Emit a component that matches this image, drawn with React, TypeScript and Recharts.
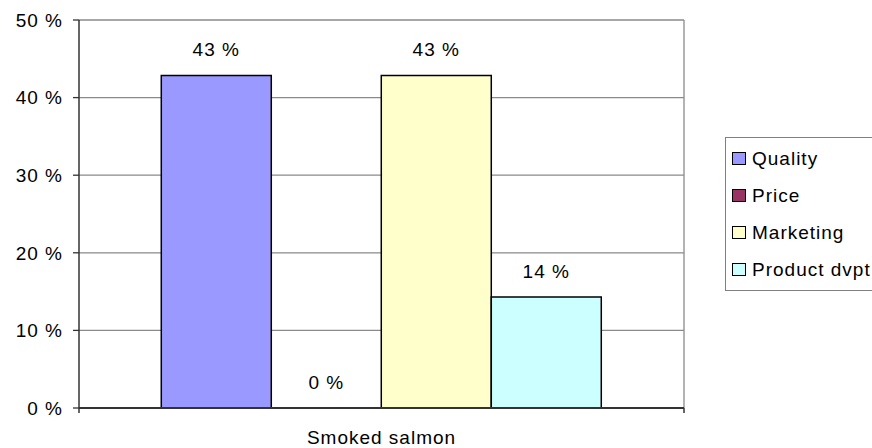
import React from 'react';
import { BarChart, Bar, XAxis, YAxis, CartesianGrid, Legend, LabelList, Text } from 'recharts';

// Share of answers per topic for the single product category
const categories = ['Smoked salmon'];
const seriesNames = ['Quality', 'Price', 'Marketing', 'Product dvpt'];
const qualityValues = [42.86];
const priceValues = [0];
const marketingValues = [42.86];
const productDvptValues = [14.29];
const yTicks = [0, 10, 20, 30, 40, 50];

const seriesKeys = ['quality', 'price', 'marketing', 'productDvpt'];
const seriesColors = ['#9999FF', '#993366', '#FFFFCC', '#CCFFFF'];

const data = categories.map((name, i) => ({
  name,
  quality: qualityValues[i],
  price: priceValues[i],
  marketing: marketingValues[i],
  productDvpt: productDvptValues[i],
}));

const FONT = '"Liberation Sans", Arial, Helvetica, sans-serif';
const AXIS = '#333333';
const GRID = '#8a8a8a';

const pct = (v: number) => `${Math.round(v)} %`;

// Category tick: the label plus short tick marks at both edges of the band
const CategoryTick = (props: any) => {
  const { x, y, payload } = props;
  const half = payload?.offset ?? 0;
  return (
    <g>
      <line x1={x - half} y1={y} x2={x - half} y2={y + 5} stroke={AXIS} strokeWidth={1.5} />
      <line x1={x + half} y1={y} x2={x + half} y2={y + 5} stroke={AXIS} strokeWidth={1.5} />
      <Text
        x={x}
        y={y + 23}
        textAnchor="middle"
        verticalAnchor="start"
        fill="#000"
        fontSize={19}
        fontFamily={FONT}
        letterSpacing={1}
      >
        {payload.value}
      </Text>
    </g>
  );
};

// Value label drawn above each bar
const ValueLabel = (props: any) => {
  const { x, y, width, value } = props;
  if (x == null || y == null || value == null) return null;
  return (
    <text
      x={Number(x) + Number(width) / 2}
      y={Number(y) - 19}
      textAnchor="middle"
      fill="#000"
      fontSize={19}
      fontFamily={FONT}
      letterSpacing={1}
    >
      {pct(Number(value))}
    </text>
  );
};

const LegendBox = (props: any) => {
  const { payload = [] } = props;
  const ordered = [...payload].sort(
    (a: any, b: any) => seriesNames.indexOf(a.value) - seriesNames.indexOf(b.value)
  );
  return (
    <div
      style={{
        border: '1px solid #808080',
        background: '#fff',
        padding: '2px 0',
        width: 160,
        boxSizing: 'border-box',
        fontFamily: FONT,
      }}
    >
      {ordered.map((entry: any) => (
        <div
          key={entry.value}
          style={{ height: 37, display: 'flex', alignItems: 'center', paddingLeft: 6 }}
        >
          <span
            style={{
              display: 'inline-block',
              width: 14,
              height: 13,
              border: '1.5px solid #000',
              background: entry.color,
              boxSizing: 'border-box',
              marginRight: 6,
            }}
          />
          <span style={{ fontSize: 19, letterSpacing: 1, color: '#000', whiteSpace: 'nowrap' }}>
            {entry.value}
          </span>
        </div>
      ))}
    </div>
  );
};

export default function App() {
  return (
    <div
      style={{
        position: 'absolute',
        left: 0,
        top: 0,
        width: 872,
        height: 448,
        overflow: 'hidden',
        background: '#fff',
      }}
    >
      <BarChart
        width={872}
        height={448}
        data={data}
        margin={{ top: 20, right: 188, bottom: 0, left: 1 }}
        barCategoryGap="13.6%"
        barGap={0}
      >
        <CartesianGrid
          stroke={GRID}
          strokeWidth={1.3}
          horizontal
          vertical
          verticalCoordinatesGenerator={({ offset }: any) => [offset.left + offset.width]}
        />
        {seriesKeys.map((key, i) => (
          <Bar
            key={key}
            dataKey={key}
            name={seriesNames[i]}
            fill={seriesColors[i]}
            stroke="#000"
            strokeWidth={1.5}
            minPointSize={0.01}
            isAnimationActive={false}
          >
            <LabelList dataKey={key} content={<ValueLabel />} />
          </Bar>
        ))}
        <XAxis
          dataKey="name"
          type="category"
          height={40}
          tickSize={0}
          tickMargin={0}
          tickLine={false}
          axisLine={{ stroke: AXIS, strokeWidth: 1.8 }}
          tick={<CategoryTick />}
        />
        <YAxis
          type="number"
          width={78}
          domain={[0, 50]}
          ticks={yTicks}
          interval={0}
          tickFormatter={pct}
          tickSize={6}
          tickMargin={10}
          axisLine={{ stroke: AXIS, strokeWidth: 1.5 }}
          tickLine={{ stroke: AXIS, strokeWidth: 1.3 }}
          tick={{ fill: '#000', fontSize: 19, fontFamily: FONT, letterSpacing: 1 }}
        />
        <Legend
          layout="vertical"
          align="center"
          verticalAlign="middle"
          itemSorter={null as any}
          content={<LegendBox />}
          wrapperStyle={{ left: 725, top: 137, width: 160, height: 154 }}
        />
      </BarChart>
    </div>
  );
}
